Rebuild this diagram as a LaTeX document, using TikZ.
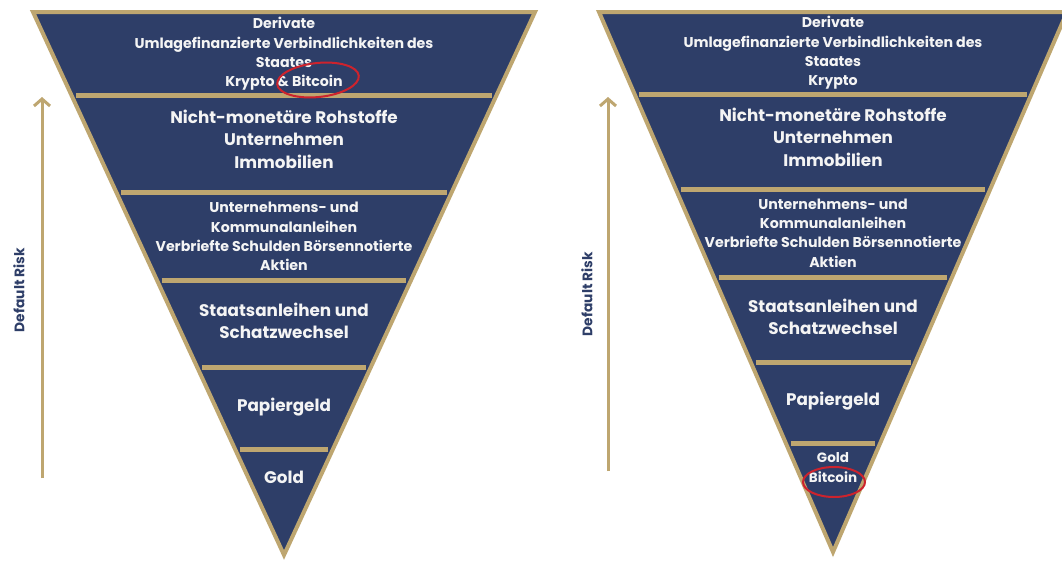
\documentclass[tikz,border=0pt]{standalone}
\usepackage{fontspec}
\setmainfont{Poppins}
\usetikzlibrary{arrows.meta}
\definecolor{navy}{RGB}{46,62,104}
\definecolor{gold}{RGB}{190,166,112}
\definecolor{txt}{RGB}{244,244,244}
\definecolor{mark}{RGB}{205,35,45}
\begin{document}
\begin{tikzpicture}[x=1pt,y=-1pt,
 tri/.style={fill=navy,draw=gold,line width=4pt,line join=miter},
 bar/.style={draw=gold,line width=5pt},
 small/.style={text=txt,font=\bfseries\fontsize{14.2}{19.2}\selectfont,align=center,inner sep=0pt},
 big/.style={text=txt,font=\bfseries\fontsize{16.8}{22.5}\selectfont,align=center,inner sep=0pt},
 tiny/.style={text=txt,font=\bfseries\fontsize{13.5}{20}\selectfont,align=center,inner sep=0pt},
 riskarrow/.style={draw=gold,line width=3pt,-{Straight Barb[length=7pt,width=16pt]}},
 risklabel/.style={text=navy,font=\bfseries\fontsize{13.8}{15}\selectfont,rotate=90,inner sep=0pt},
 ring/.style={draw=mark,line width=2pt}]
\useasboundingbox[fill=white] (0,0) rectangle (1062,562);

% ---------- left pyramid ----------
\draw[tri] (33,12) -- (535,12) -- (284,555) -- cycle;
\draw[bar] (76.3,95) -- (491.7,95);
\draw[bar] (121.1,192) -- (446.9,192);
\draw[bar] (161.7,280) -- (406.3,280);
\draw[bar] (201.9,367) -- (366.1,367);
\draw[bar] (239.7,449) -- (328.3,449);

\node[small] (l1) at (284,54) {Derivate\\Umlagefinanzierte Verbindlichkeiten des\\Staates\\Krypto \& Bitcoin};
\node[big] (l2) at (284,139) {Nicht-monetäre Rohstoffe\\Unternehmen\\Immobilien};
\node[small] (l3) at (284,236.5) {Unternehmens- und\\Kommunalanleihen\\Verbriefte Schulden Börsennotierte\\Aktien};
\node[big] (l4) at (284,321) {Staatsanleihen und\\Schatzwechsel};
\node[big] (l5) at (284,407) {Papiergeld};
\node[big] (l6) at (284,477) {Gold};
\draw[ring, rotate around={6:(318,80)}] (318,80) ellipse [x radius=41, y radius=17];

\coordinate (la0) at (42,478);
\coordinate (la1) at (42,97);
\draw[riskarrow] (la0) -- (la1);
\node[risklabel] (lr) at (19,290) {Default Risk};

% ---------- right pyramid ----------
\draw[tri] (599,12) -- (1067,12) -- (833,552) -- cycle;
\draw[bar] (639.4,94) -- (1026.6,94);
\draw[bar] (680.6,189) -- (985.4,189);
\draw[bar] (718.7,277) -- (947.3,277);
\draw[bar] (755.5,362) -- (910.5,362);
\draw[bar] (790.6,443) -- (875.4,443);

\node[small] (r1) at (833,53) {Derivate\\Umlagefinanzierte Verbindlichkeiten des\\Staates\\Krypto};
\node[big] (r2) at (833,137) {Nicht-monetäre Rohstoffe\\Unternehmen\\Immobilien};
\node[small] (r3) at (833,233) {Unternehmens- und\\Kommunalanleihen\\Verbriefte Schulden Börsennotierte\\Aktien};
\node[big] (r4) at (833,317) {Staatsanleihen und\\Schatzwechsel};
\node[big] (r5) at (833,401) {Papiergeld};
\node[tiny] (r6) at (833,468) {Gold\\Bitcoin};
\draw[ring] (834,482) ellipse [x radius=31, y radius=15];

\coordinate (ra0) at (608,471);
\coordinate (ra1) at (608,97);
\draw[riskarrow] (ra0) -- (ra1);
\node[risklabel] (rr) at (587,294) {Default Risk};
\end{tikzpicture}
\end{document}
